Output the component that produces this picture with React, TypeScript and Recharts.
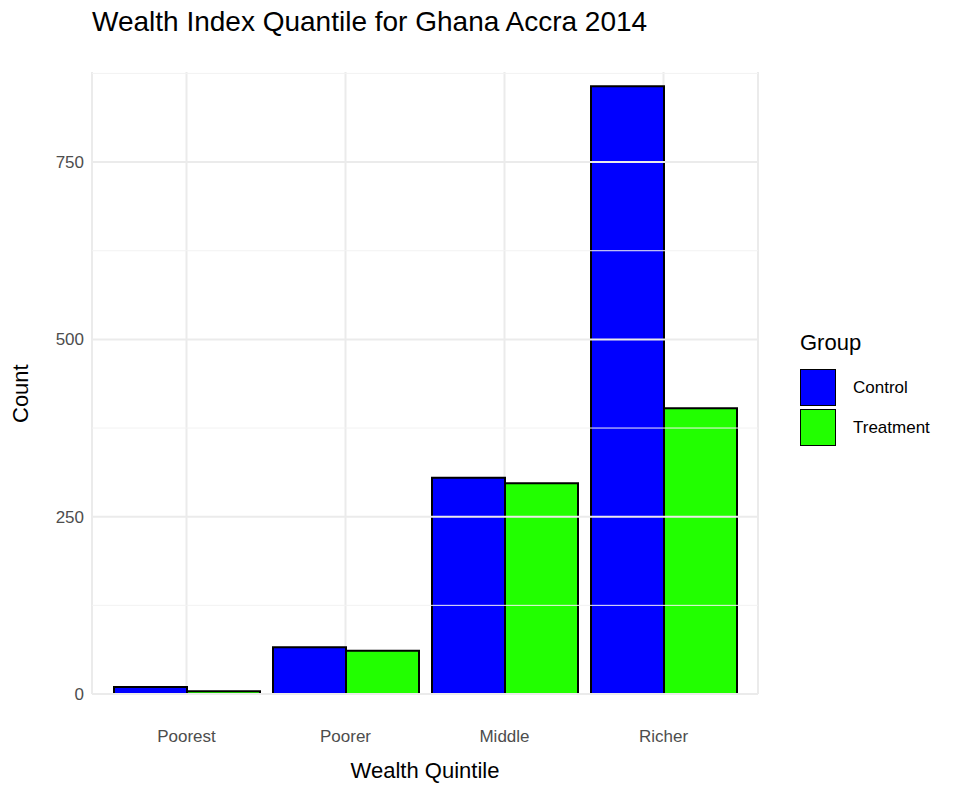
import { Bar, BarChart, CartesianGrid, ReferenceLine, XAxis, YAxis } from "recharts";

const quintiles = ["Poorest", "Poorer", "Middle", "Richer"];
const control = [10, 66, 305, 857];
const treatment = [4, 61, 297, 403];
const majorTicks = [0, 250, 500, 750];
const minorTicks = [125, 375, 625, 875];

const data = quintiles.map((q, i) => ({ q, control: control[i], treatment: treatment[i] }));
const font = "'Liberation Sans', Arial, sans-serif";

export default function App() {
  return (
    <div style={{ position: "absolute", left: 0, top: 0, width: 975, height: 800, fontFamily: font, background: "#fff" }}>
      <div style={{ position: "absolute", left: 92, top: 6, fontSize: 28, color: "#000" }}>
        Wealth Index Quantile for Ghana Accra 2014
      </div>
      <div style={{ position: "absolute", left: 0, width: 850, textAlign: "center", top: 758, fontSize: 22 }}>
        Wealth Quintile
      </div>
      <div style={{ position: "absolute", left: 8, top: 383, fontSize: 22, transform: "rotate(-90deg)", transformOrigin: "left top", }}>
        <span style={{ position: "relative", left: -40 }}>Count</span>
      </div>
      <div style={{ position: "absolute", left: 800, top: 330, fontSize: 22 }}>Group</div>
      {[["Control", "#0000ff", 369], ["Treatment", "#22ff00", 409]].map(([name, c, y]) => (
        <div key={name as string}>
          <div style={{ position: "absolute", left: 800, top: y as number, width: 36, height: 37, background: c as string, border: "1px solid #000", boxSizing: "border-box" }} />
          <div style={{ position: "absolute", left: 853, top: (y as number) + 9, fontSize: 17 }}>{name}</div>
        </div>
      ))}
      <BarChart width={975} height={800} data={data} margin={{ top: 72, right: 217, left: 32, bottom: 66 }} barCategoryGap={7} barGap={0} style={{ position: "absolute", left: 0, top: 0 }}>
        <CartesianGrid stroke="#ebebeb" strokeWidth={2} horizontal={false} />
        {minorTicks.map((t) => (
          <ReferenceLine key={t} y={t} stroke="#f2f2f2" strokeWidth={1} />
        ))}
        {majorTicks.map((t) => (
          <ReferenceLine key={t} y={t} stroke="#ebebeb" strokeWidth={2} />
        ))}
        <XAxis dataKey="q" axisLine={false} tickLine={false} height={40} padding={{ left: 15, right: 15 }}
          tick={{ fill: "#4d4d4d", fontSize: 17, fontFamily: font }} tickMargin={30} />
        <YAxis domain={[0, 877]} ticks={majorTicks} axisLine={false} tickLine={false} width={60}
          tick={{ fill: "#4d4d4d", fontSize: 17, fontFamily: font }} />
        <Bar dataKey="control" fill="#0000ff" stroke="#000" strokeWidth={2} isAnimationActive={false} />
        <Bar dataKey="treatment" fill="#22ff00" stroke="#000" strokeWidth={2} isAnimationActive={false} />
      </BarChart>
    </div>
  );
}
